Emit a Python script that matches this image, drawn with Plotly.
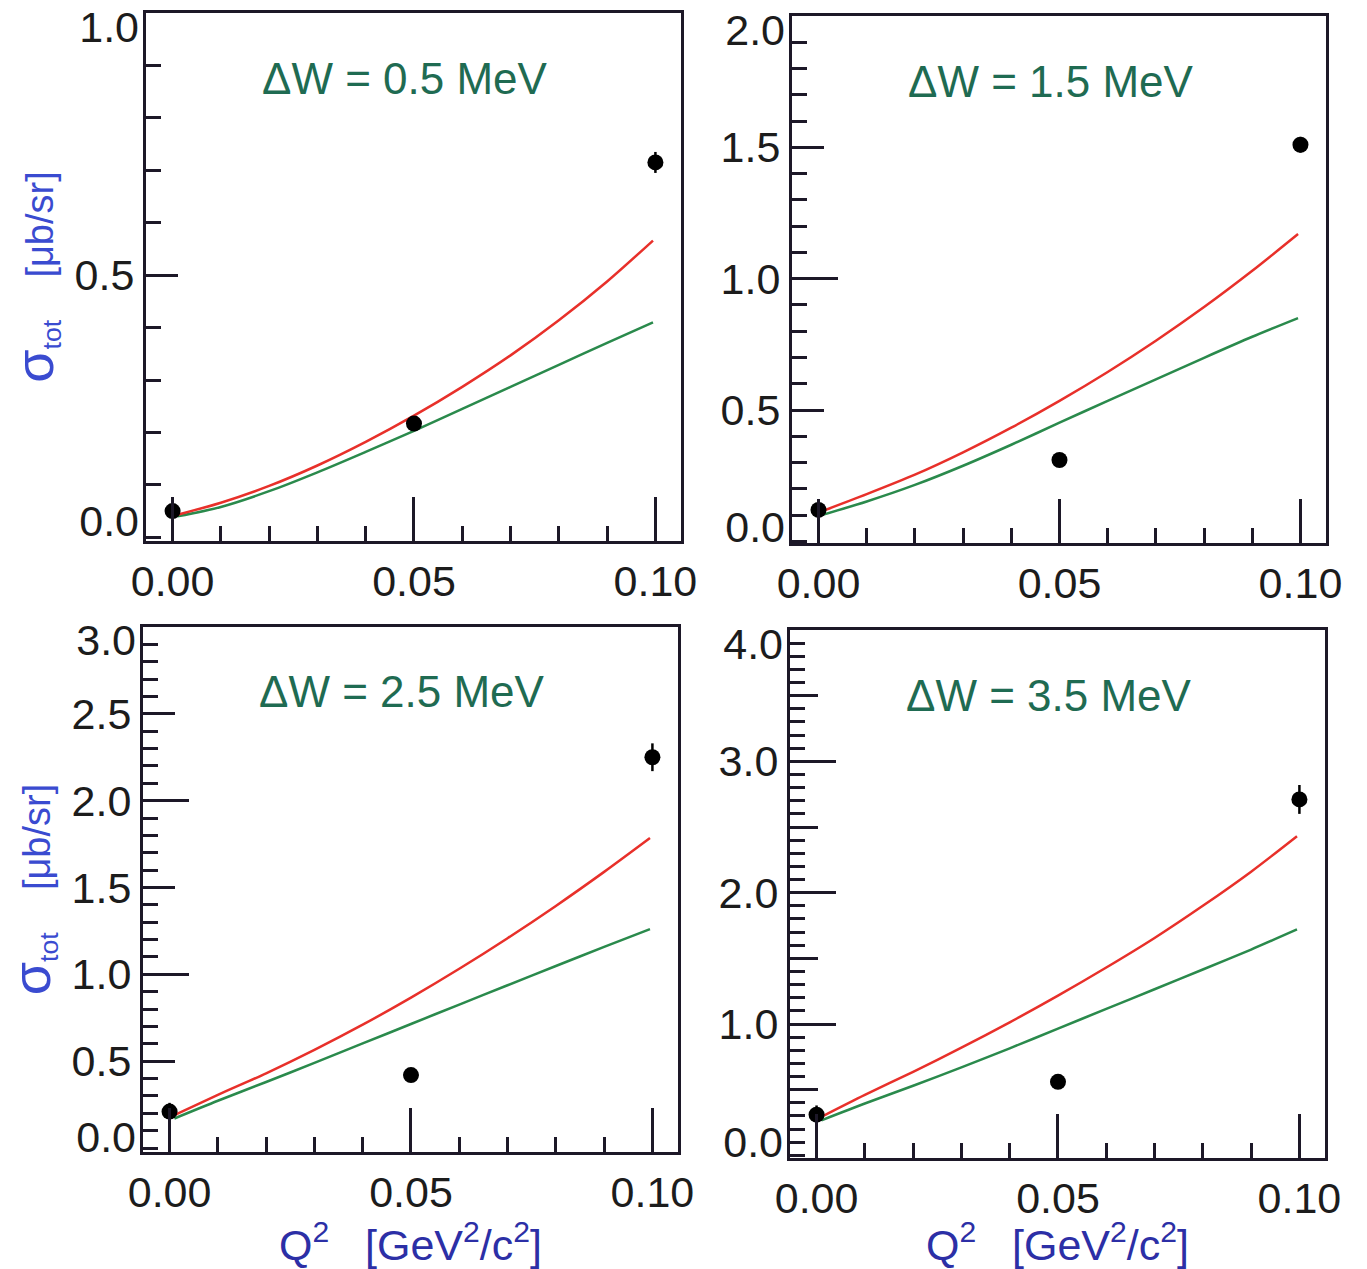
import plotly.graph_objects as go

# ---------------- data ----------------
q2_points = [0.0, 0.05, 0.10]
q2_curve = [0.001, 0.01, 0.02, 0.03, 0.04, 0.05, 0.06, 0.07, 0.08, 0.09, 0.0995]

dw_labels = ["ΔW = 0.5 MeV", "ΔW = 1.5 MeV", "ΔW = 2.5 MeV", "ΔW = 3.5 MeV"]

sigma_05 = [0.05, 0.217, 0.715]
err_05 = [0.02, 0.012, 0.02]
red_05 = [0.043, 0.066, 0.098, 0.137, 0.182, 0.232, 0.287, 0.347, 0.414, 0.488, 0.566]
green_05 = [0.040, 0.058, 0.088, 0.124, 0.163, 0.203, 0.245, 0.287, 0.329, 0.371, 0.410]

sigma_15 = [0.12, 0.31, 1.51]
err_15 = [0.03, 0.02, 0.03]
red_15 = [0.117, 0.180, 0.254, 0.339, 0.433, 0.535, 0.645, 0.764, 0.892, 1.030, 1.170]
green_15 = [0.102, 0.152, 0.215, 0.288, 0.368, 0.452, 0.535, 0.617, 0.699, 0.779, 0.850]

sigma_25 = [0.21, 0.42, 2.25]
err_25 = [0.05, 0.03, 0.08]
red_25 = [0.19, 0.306, 0.430, 0.565, 0.710, 0.866, 1.032, 1.208, 1.394, 1.590, 1.785]
green_25 = [0.17, 0.272, 0.380, 0.490, 0.602, 0.714, 0.826, 0.937, 1.048, 1.158, 1.26]

sigma_35 = [0.31, 0.56, 2.71]
err_35 = [0.07, 0.04, 0.11]
red_35 = [0.293, 0.460, 0.636, 0.820, 1.013, 1.216, 1.430, 1.655, 1.900, 2.160, 2.430]
green_35 = [0.267, 0.395, 0.53, 0.67, 0.815, 0.965, 1.115, 1.265, 1.415, 1.567, 1.72]

x_ticks = [0.0, 0.05, 0.10]
x_tick_labels = ["0.00", "0.05", "0.10"]

panels = [
    dict(sig=sigma_05, err=err_05, red=red_05, green=green_05, label=dw_labels[0],
         yr=[-0.007, 1.0], ytick=0.5, ymed=1.0),
    dict(sig=sigma_15, err=err_15, red=red_15, green=green_15, label=dw_labels[1],
         yr=[-0.006, 2.0], ytick=0.5, ymed=1.0),
    dict(sig=sigma_25, err=err_25, red=red_25, green=green_25, label=dw_labels[2],
         yr=[-0.023, 3.0], ytick=0.5, ymed=1.0),
    dict(sig=sigma_35, err=err_35, red=red_35, green=green_35, label=dw_labels[3],
         yr=[-0.02, 4.0], ytick=1.0, ymed=0.5),
]

# ---------------- layout geometry ----------------
W, H = 1367, 1269
boxes = [  # left, right, top, bottom in pixels
    (146, 681, 13, 541),
    (792, 1326, 16, 543),
    (143, 678, 627, 1152),
    (790, 1325, 630, 1158),
]
# pixel shifts of the end labels (top label moved down, bottom label moved up)
end_label_shift = [(14, -16), (14, -14), (13, -11), (14, -13)]
x_range = [-0.0055, 0.1053]

FONT = "Liberation Sans, Arial, Helvetica, sans-serif"
AX = "#1d1828"
RED = "#e8302a"
GREEN = "#2a8a4c"
TEAL = "#1f6b52"
BLUE_Y = "#3a4bd0"
BLUE_X = "#2c2fa6"
TICKFONT = dict(size=43, color="#1c1c1c", family=FONT)
NB = "\u00a0"

Y_TITLE = (f"<span style='font-size:54px'>σ</span><sub>tot</sub>{NB*4}"
           f"<span style='font-size:38px'>[μb/sr]</span>")
X_TITLE = f"Q<sup>2</sup>{NB*3}[GeV<sup>2</sup>/c<sup>2</sup>]"

fig = go.Figure()
layout = dict(
    width=W, height=H,
    margin=dict(l=0, r=0, t=0, b=0),
    paper_bgcolor="white", plot_bgcolor="white",
    showlegend=False,
    font=dict(family=FONT, size=43, color="#1c1c1c"),
    annotations=[],
)

for i, (p, (l, r, t, b)) in enumerate(zip(panels, boxes)):
    n = i + 1
    xa = "x" if n == 1 else f"x{n}"
    ya = "y" if n == 1 else f"y{n}"
    xdom = [l / W, r / W]
    ydom = [1 - b / H, 1 - t / H]

    fig.add_trace(go.Scatter(x=q2_curve, y=p["green"], mode="lines",
                             line=dict(color=GREEN, width=2.5, shape="spline", smoothing=0.8),
                             xaxis=xa, yaxis=ya, hoverinfo="skip"))
    fig.add_trace(go.Scatter(x=q2_curve, y=p["red"], mode="lines",
                             line=dict(color=RED, width=2.5, shape="spline", smoothing=0.8),
                             xaxis=xa, yaxis=ya, hoverinfo="skip"))
    fig.add_trace(go.Scatter(x=q2_points, y=p["sig"], mode="markers",
                             marker=dict(color="black", size=16, symbol="circle"),
                             error_y=dict(type="data", array=p["err"], color="black", thickness=2.5, width=0),
                             xaxis=xa, yaxis=ya))

    xkey = "xaxis" if n == 1 else f"xaxis{n}"
    ykey = "yaxis" if n == 1 else f"yaxis{n}"
    bottom = n >= 3
    left = n in (1, 3)
    layout[xkey] = dict(
        domain=xdom, anchor=ya, range=x_range, automargin=False,
        tickvals=x_ticks, ticktext=x_tick_labels,
        ticks="inside", ticklen=44, tickwidth=2.5, tickcolor=AX,
        minor=dict(tickmode="linear", dtick=0.01, tick0=0, ticks="inside", ticklen=15,
                   tickwidth=2.5, tickcolor=AX, showgrid=False),
        showline=True, linecolor=AX, linewidth=3, mirror=True,
        showgrid=False, zeroline=False,
        tickfont=TICKFONT,
        title=dict(text=X_TITLE if bottom else "",
                   font=dict(size=43, color=BLUE_X, family=FONT), standoff=10),
    )

    top = p["yr"][1]
    n_lab = int(round(top / p["ytick"]))
    label_vals = [round(k * p["ytick"], 3) for k in range(n_lab + 1)]
    inner_vals = label_vals[1:-1]
    layout[ykey] = dict(
        domain=ydom, anchor=xa, range=p["yr"], automargin=False,
        tickmode="array", tickvals=inner_vals, ticktext=[f"{v:.1f}" for v in inner_vals],
        ticks="inside", ticklen=32 if p["ytick"] < 1 else 46, tickwidth=2.5, tickcolor=AX,
        minor=dict(tickmode="linear", dtick=0.1, tick0=0, ticks="inside", ticklen=15,
                   tickwidth=2.5, tickcolor=AX, showgrid=False),
        showline=True, linecolor=AX, linewidth=3, mirror=True,
        showgrid=False, zeroline=False,
        tickfont=TICKFONT,
        title=dict(text=Y_TITLE if left else "",
                   font=dict(size=38, color=BLUE_Y, family=FONT), standoff=10),
    )

    # extra axis: secondary (longer / medium) tick marks
    n_extra = int(round(top / p["ymed"]))
    extra_ticks = [p["ymed"] * k for k in range(1, n_extra)]
    extra_axes = [
        dict(tickvals=extra_ticks, showticklabels=False, ticks="inside",
             ticklen=46 if p["ymed"] >= 1 else 28, tickwidth=2.5, tickcolor=AX),
        # end labels, nudged inside the frame
        dict(tickvals=[label_vals[-1]], ticktext=[f"{label_vals[-1]:.1f}"], ticks="",
             ticklabelshift=end_label_shift[i][0], ticklabelstandoff=6, tickfont=TICKFONT),
        dict(tickvals=[label_vals[0]], ticktext=[f"{label_vals[0]:.1f}"], ticks="",
             ticklabelshift=end_label_shift[i][1], ticklabelstandoff=6, tickfont=TICKFONT),
    ]
    for j, ax in enumerate(extra_axes):
        idx = 5 + i * 3 + j
        ax.update(domain=ydom, anchor=xa, overlaying=ya, range=p["yr"], automargin=False,
                  tickmode="array", showline=False, showgrid=False, zeroline=False,
                  ticklabeloverflow="allow")
        layout[f"yaxis{idx}"] = ax
        fig.add_trace(go.Scatter(x=[], y=[], xaxis=xa, yaxis=f"y{idx}", hoverinfo="skip"))

    layout["annotations"].append(dict(
        text=p["label"], xref=f"{xa} domain", yref=f"{ya} domain",
        x=0.485, y=1 - (65 / (b - t)), xanchor="center", yanchor="middle", showarrow=False,
        font=dict(size=44, color=TEAL, family=FONT),
    ))

fig.update_layout(**layout)
fig.write_html("out.html")
